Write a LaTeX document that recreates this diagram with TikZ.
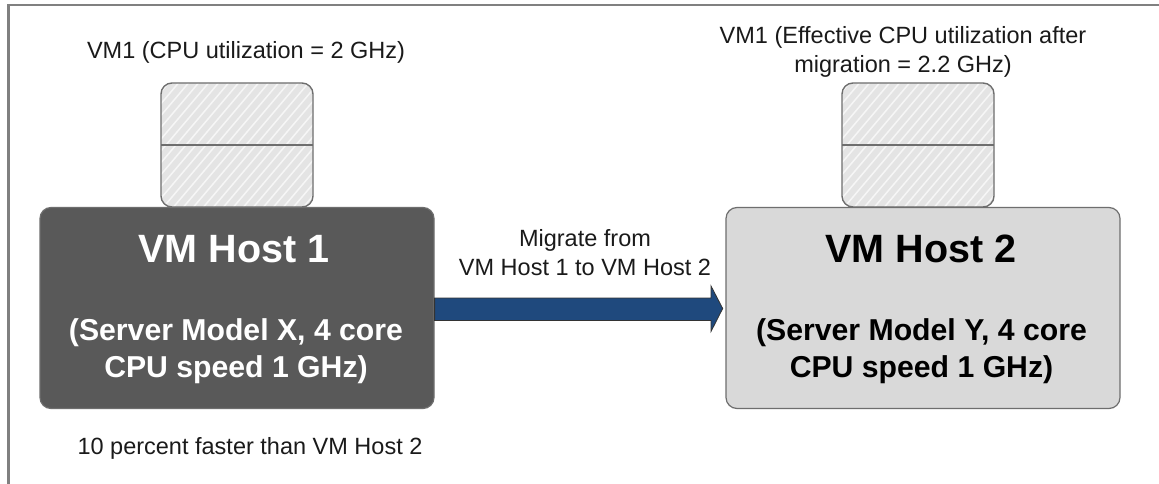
\documentclass[tikz,border=0pt]{standalone}
\usepackage{fontspec}
\setmainfont{Liberation Sans}
\definecolor{framegray}{HTML}{808080}
\definecolor{edgegray}{HTML}{6E6E6E}
\definecolor{darkhost}{HTML}{595959}
\definecolor{lighthost}{HTML}{D9D9D9}
\definecolor{vmfill}{HTML}{E4E4E4}
\definecolor{hatchc}{HTML}{F6F6F6}
\definecolor{arrowblue}{HTML}{1F497D}
\definecolor{txt}{HTML}{1A1A1A}
\tikzset{
  x=1pt,y=-1pt,
  host/.style={draw=edgegray,line width=1.2pt,rounded corners=11pt,minimum width=394pt,minimum height=201pt,inner sep=0pt},
  vmpart/.style={line width=1.4pt,draw=edgegray},
  lbl/.style={font=\fontsize{23.5pt}{29pt}\selectfont,text=txt,align=center,inner sep=0pt},
  hosttext/.style={font=\bfseries\fontsize{30.2pt}{36.5pt}\selectfont,align=center,inner sep=0pt},
  hosttitle/.style={font=\bfseries\fontsize{39.5pt}{42pt}\selectfont,align=center,inner sep=0pt},
}
\begin{document}
\begin{tikzpicture}
\useasboundingbox (0,0) rectangle (1159,484);
\fill[white] (0,0) rectangle (1159,484);
\draw[framegray,line width=2.2pt] (8.5,484) -- (8.5,5) -- (1159,5);
% VM 1
\fill[vmfill,rounded corners=11pt] (161,83) rectangle (313,207);
\begin{scope}
\clip[rounded corners=11pt] (161,83) rectangle (313,207);
\foreach \i in {-20,...,30} \draw[hatchc,line width=1.5pt] (161+\i*10,210) -- (161+\i*10+110,80);
\end{scope}
\draw[vmpart,rounded corners=11pt] (161,83) rectangle (313,207);
\draw[vmpart] (161,145) -- (313,145);
% VM 2
\fill[vmfill,rounded corners=11pt] (842,83) rectangle (994,207);
\begin{scope}
\clip[rounded corners=11pt] (842,83) rectangle (994,207);
\foreach \i in {-20,...,30} \draw[hatchc,line width=1.5pt] (842+\i*10,210) -- (842+\i*10+110,80);
\end{scope}
\draw[vmpart,rounded corners=11pt] (842,83) rectangle (994,207);
\draw[vmpart] (842,145) -- (994,145);
% hosts
\node[host,fill=darkhost,text=white] (h1) at (237,308) {};
\node[host,fill=lighthost] (h2) at (923,308) {};
\node[hosttitle,text=white] (t1) at (234,249) {VM Host 1};
\node[hosttext,text=white] (s1) at (236,351) {(Server Model X, 4 core\\CPU speed 1 GHz)};
\node[hosttitle,text=black] (t2) at (921,249) {VM Host 2};
\node[hosttext,text=black] (s2) at (921.5,351) {(Server Model Y, 4 core\\CPU speed 1 GHz)};
% arrow
\filldraw[draw=black!80,line width=0.8pt,fill=arrowblue]
  (h1.east |- 0,298) -- (711,298) -- (711,286) -- (722.7,308.5) -- (711,331.5) -- (711,320.5) -- (h1.east |- 0,320.5) -- cycle;
% labels
\node[lbl] (l1) at (246,52) {VM1 (CPU utilization = 2 GHz)};
\node[lbl] (l2) at (903,52) {VM1 (Effective CPU utilization after\\migration = 2.2 GHz)};
\node[lbl] (l3) at (585,253) {Migrate from\\VM Host 1 to VM Host 2};
\node[lbl] (l4) at (250,448) {10 percent faster than VM Host 2};
\end{tikzpicture}
\end{document}
